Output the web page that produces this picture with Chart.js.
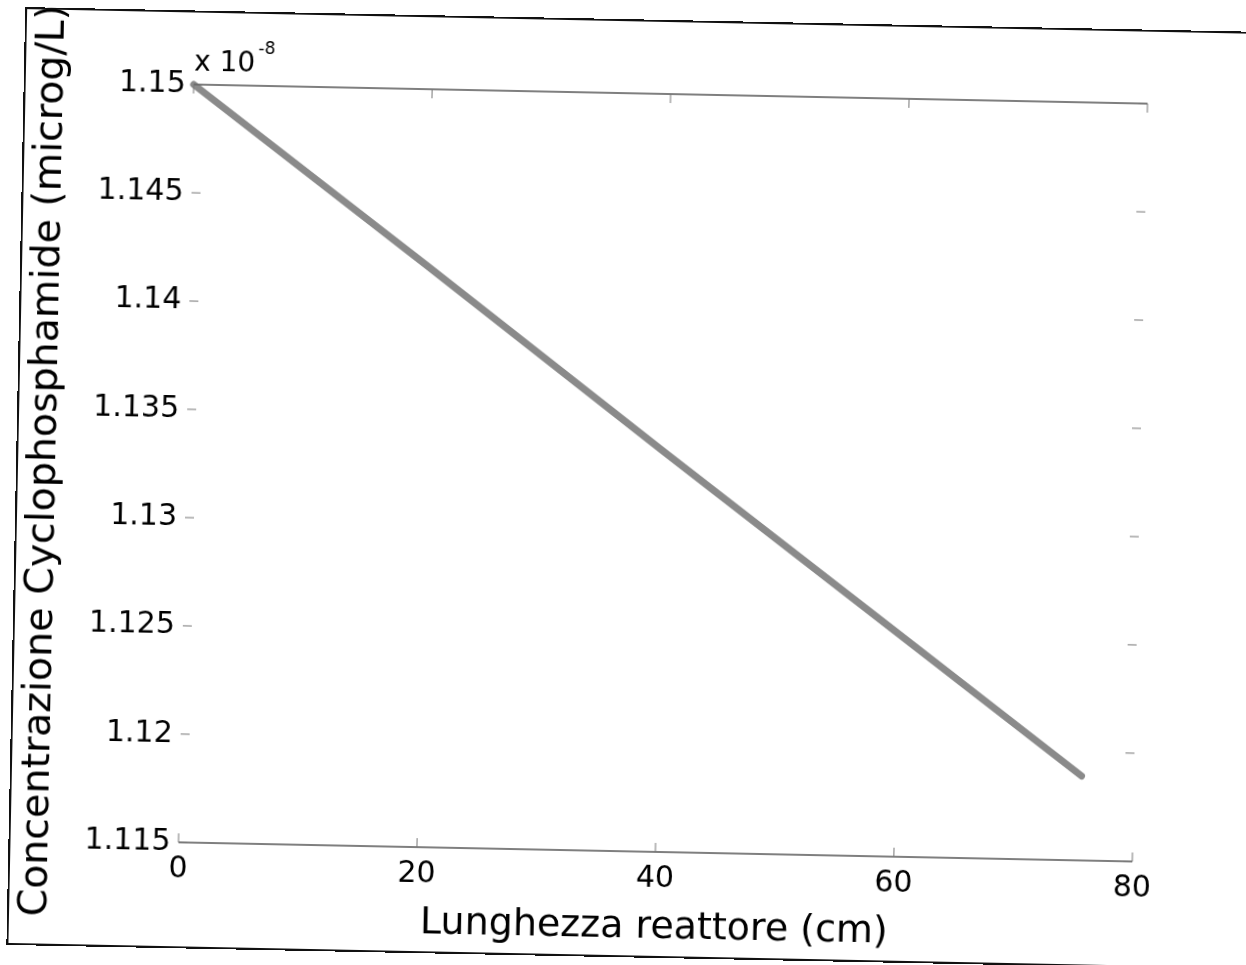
<!DOCTYPE html>
<html>
<head>
<meta charset="utf-8">
<script src="https://cdn.jsdelivr.net/npm/chart.js@4"></script>
<style>
  html, body { margin: 0; padding: 0; background: #fff; overflow: hidden; }
  #page {
    position: relative; width: 1246px; height: 965px;
    transform-origin: 663.5px 472.75px;
    transform: rotate(1.15deg);
  }
  #frame {
    position: absolute; left: 16px; top: 20px; width: 1300px; height: 934px;
    border: 2.5px solid #111; pointer-events: none;
  }
  canvas { position: absolute; left: 0; top: 0; }
</style>
</head>
<body>
<div id="page">
  <canvas id="myChart" width="1246" height="965"></canvas>
  <div id="frame"></div>
</div>
<script>
// reactor length (cm) and concentration (x 1e-8 microg/L)
const lengths = [0, 20, 40, 60, 75.6];
const concentration = [1.15, 1.1418, 1.1335, 1.1253, 1.1189];
const xTicks = [0, 20, 40, 60, 80];
const yTicks = [1.115, 1.12, 1.125, 1.13, 1.135, 1.14, 1.145, 1.15];
const xTitle = 'Lunghezza reattore (cm)';
const yTitle = 'Concentrazione Cyclophosphamide (microg/L)';
const exponentBase = 'x 10';
const exponent = '-8';

const FONT = 'DejaVu Sans';
const INK = '#000';

// matlab style box: inward ticks + top/bottom lines, exponent label
const matlabBox = {
  id: 'matlabBox',
  afterDraw(chart) {
    const { ctx, chartArea: a, scales } = chart;
    const x = scales.x, y = scales.y;
    const len = 9;
    ctx.save();
    ctx.strokeStyle = '#555';
    ctx.lineWidth = 1.5;
    ctx.beginPath();
    ctx.moveTo(a.left, a.top); ctx.lineTo(a.right, a.top);
    ctx.moveTo(a.left, a.bottom); ctx.lineTo(a.right, a.bottom);
    ctx.stroke();

    ctx.strokeStyle = '#777';
    ctx.lineWidth = 1;
    ctx.beginPath();
    xTicks.forEach(v => {
      const px = x.getPixelForValue(v);
      ctx.moveTo(px, a.bottom); ctx.lineTo(px, a.bottom - len);
      ctx.moveTo(px, a.top); ctx.lineTo(px, a.top + len);
    });
    yTicks.forEach(v => {
      const py = y.getPixelForValue(v);
      ctx.moveTo(a.left, py); ctx.lineTo(a.left + len, py);
      ctx.moveTo(a.right, py); ctx.lineTo(a.right - len, py);
    });
    ctx.stroke();

    ctx.fillStyle = INK;
    ctx.textBaseline = 'alphabetic';
    ctx.textAlign = 'left';
    ctx.font = '28px ' + FONT;
    ctx.fillText(exponentBase, a.left, a.top - 14);
    const w = ctx.measureText(exponentBase).width;
    ctx.font = '17px ' + FONT;
    ctx.fillText(exponent, a.left + w + 3, a.top - 32);
    ctx.restore();
  }
};

new Chart(document.getElementById('myChart'), {
  type: 'scatter',
  data: {
    datasets: [{
      data: lengths.map((v, i) => ({ x: v, y: concentration[i] })),
      showLine: true,
      borderColor: '#8a8a8a',
      borderWidth: 7,
      borderCapStyle: 'round',
      pointRadius: 0,
      clip: false
    }]
  },
  options: {
    responsive: false,
    animation: false,
    layout: { padding: { left: 0, top: 94, right: 106, bottom: 0 } },
    plugins: { legend: { display: false }, tooltip: { enabled: false } },
    scales: {
      x: {
        type: 'linear', min: 0, max: 80,
        afterFit: s => { s.height = 113; },
        afterBuildTicks: s => { s.ticks = xTicks.map(v => ({ value: v })); },
        grid: { display: false, drawTicks: false },
        border: { display: false },
        ticks: { padding: 9, color: INK, font: { family: FONT, size: 30 } },
        title: {
          display: true, text: xTitle, color: INK,
          font: { family: FONT, size: 38 }, padding: { top: 0, bottom: 14 }
        }
      },
      y: {
        type: 'linear', min: 1.115, max: 1.15,
        afterFit: s => { s.width = 186; },
        afterBuildTicks: s => { s.ticks = yTicks.map(v => ({ value: v })); },
        grid: { display: false, drawTicks: false },
        border: { display: false },
        ticks: {
          padding: 8, color: INK, font: { family: FONT, size: 30 },
          callback: v => String(Number(v.toFixed(3)))
        },
        title: {
          display: true, text: yTitle, color: INK,
          font: { family: FONT, size: 39.5 }, padding: { top: 21, bottom: 0 }
        }
      }
    }
  },
  plugins: [matlabBox]
});
</script>
</body>
</html>
